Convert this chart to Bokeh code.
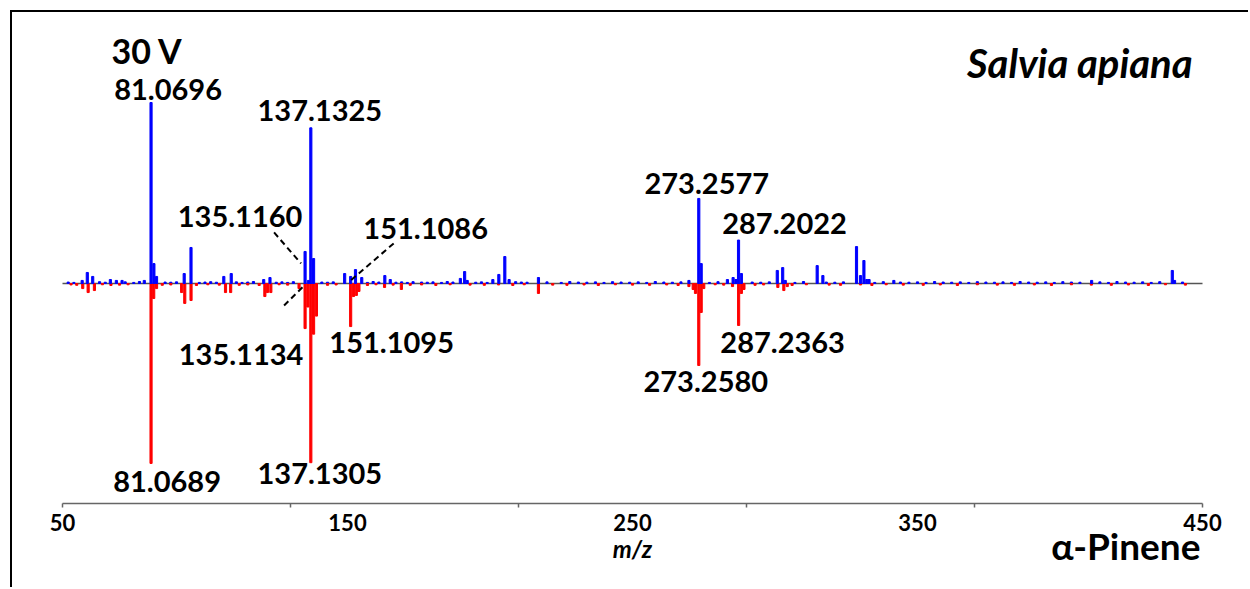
from bokeh.plotting import figure
from bokeh.models import Range1d, FixedTicker, Label
from bokeh.embed import file_html
from bokeh.resources import INLINE

# ---------------- data ----------------
# Salvia apiana spectrum (upper, blue), relative intensity
blue_mz = [56.9, 58.7, 60.6, 66.8, 68.9, 70.9, 78.7, 81.0696, 82.07, 83.0, 92.7, 95.09,
           106.6, 109.2, 120.6, 122.8, 135.1160, 136.3, 137.1325, 138.1, 149.0, 151.1086,
           152.8, 155.0, 163.1, 165.0, 189.6, 191.1, 192.0, 201.0, 203.1, 205.2, 206.7,
           217.0, 269.8, 273.2577, 274.1, 283.3, 285.3, 286.3, 287.2022, 288.2, 300.8,
           302.7, 303.6, 314.8, 316.8, 328.6, 330.0, 331.2, 332.2, 333.0, 341.7, 411.1,
           439.4, 440.2]
blue_int = [1.7, 6.1, 3.9, 2.2, 1.7, 1.7, 1.7, 100.0, 11.0, 3.9, 5.5, 19.9,
            3.9, 5.5, 2.2, 3.3, 17.7, 1.7, 86.0, 13.8, 5.5, 3.9,
            7.7, 3.3, 4.4, 2.2, 2.8, 6.6, 1.7, 2.2, 5.0, 14.9, 2.2,
            3.3, 1.7, 47.0, 11.0, 2.2, 3.3, 2.2, 24.0, 5.5, 7.2,
            8.8, 1.7, 9.9, 4.4, 20.4, 4.4, 12.7, 2.2, 2.2, 1.7, 1.7,
            7.2, 1.7]

# alpha-Pinene standard (lower, red), relative intensity
red_mz = [57.1, 59.0, 61.2, 81.0689, 82.0, 83.0, 91.8, 92.9, 95.1, 107.2, 109.0,
          121.0, 121.9, 123.1, 133.0, 135.1134, 136.1, 137.1305, 138.1, 139.1,
          151.1095, 152.1, 153.1, 154.0, 163.0, 168.9, 217.0, 269.8, 271.3, 272.1,
          273.2580, 274.1, 275.0, 285.1, 287.2363, 288.2, 289.1, 301.0, 303.1, 304.3]
red_int = [2.8, 5.0, 3.9, 99.4, 8.3, 2.8, 5.0, 11.0, 9.4, 5.0, 5.0,
           7.2, 5.0, 5.0, 2.8, 24.9, 13.0, 99.0, 28.0, 18.0,
           23.8, 7.2, 6.6, 4.4, 2.2, 3.3, 5.5, 1.7, 3.3, 5.5,
           45.3, 16.0, 2.8, 1.7, 23.2, 5.5, 3.3, 2.2, 3.9, 1.7]

# low-level baseline signals
blue_noise_mz = [52, 54, 63, 65, 72, 75, 77, 86, 88, 90, 98, 100, 102, 104, 111, 113, 115,
                 117, 125, 127, 129, 131, 141, 143, 145, 157, 159, 161, 167, 169, 171, 173,
                 176, 178, 180, 183, 185, 187, 195, 197, 199, 209, 211, 213, 220, 225, 228,
                 231, 234, 237, 240, 243, 246, 249, 252, 255, 258, 261, 264, 267, 277, 280,
                 292, 295, 298, 307, 310, 318, 321, 324, 335, 338, 344, 347, 350, 353, 356,
                 359, 362, 365, 368, 371, 374, 377, 380, 383, 386, 389, 392, 395, 398, 401,
                 404, 407, 414, 417, 420, 423, 426, 429, 432, 435, 443, 446]
blue_noise_int = [0.8, 0.6, 1.0, 0.7, 0.9, 0.6, 1.1, 0.8, 0.7, 0.9, 0.6, 0.8, 1.0, 0.7, 0.9,
                  0.6, 0.8, 1.1, 0.7, 0.9, 0.6, 1.0, 0.8, 0.7, 0.9, 0.6, 1.1, 0.8, 0.7, 0.9,
                  0.6, 1.0, 0.8, 0.7, 0.9, 0.6, 1.1, 0.8, 0.7, 0.9, 0.6, 1.0, 0.8, 0.7, 0.9,
                  0.6, 1.1, 0.8, 0.7, 0.9, 0.6, 1.0, 0.8, 0.7, 0.9, 0.6, 1.1, 0.8, 0.7, 0.9,
                  0.6, 1.0, 0.8, 0.7, 0.9, 0.6, 1.1, 0.8, 0.7, 0.9, 0.6, 1.0, 0.8, 0.7, 0.9,
                  0.6, 1.1, 0.8, 0.7, 0.9, 0.6, 1.0, 0.8, 0.7, 0.9, 0.6, 1.1, 0.8, 0.7, 0.9,
                  0.6, 1.0, 0.8, 0.7, 0.9, 0.6, 1.1, 0.8, 0.7, 0.9, 0.6, 1.0, 0.8]
red_noise_mz = [53, 55, 64, 67, 70, 73, 85, 88, 97, 101, 105, 112, 115, 119, 126, 129, 143,
                146, 157, 160, 166, 172, 176, 181, 186, 193, 198, 203, 208, 212, 222, 227,
                233, 238, 244, 250, 256, 262, 266, 279, 282, 293, 296, 306, 311, 319, 323,
                330, 334, 339, 345, 352, 358, 364, 371, 378, 384, 391, 397, 404, 411, 418,
                424, 431, 437, 444]
red_noise_int = [0.8, 1.0, 0.7, 1.1, 0.9, 0.7, 1.0, 0.8, 1.1, 0.7, 0.9, 1.0, 0.8, 1.1, 0.7,
                 0.9, 1.0, 0.8, 1.1, 0.7, 0.9, 1.0, 0.8, 1.1, 0.7, 0.9, 1.0, 0.8, 1.1, 0.7,
                 0.9, 1.0, 0.8, 1.1, 0.7, 0.9, 1.0, 0.8, 1.1, 0.7, 0.9, 1.0, 0.8, 1.1, 0.7,
                 0.9, 1.0, 0.8, 1.1, 0.7, 0.9, 1.0, 0.8, 1.1, 0.7, 0.9, 1.0, 0.8, 1.1, 0.7,
                 0.9, 1.0, 0.8, 1.1, 0.7, 0.9]

blue_labels = ["81.0696", "137.1325", "135.1160", "151.1086", "273.2577", "287.2022"]
red_labels = ["81.0689", "137.1305", "135.1134", "151.1095", "273.2580", "287.2363"]

x_tick_marks = [50, 130, 210, 290, 370, 450]
x_tick_labels = [50, 150, 250, 350, 450]

# ---------------- layout ----------------
FONT = "Lato"
BLUE = "#0000FF"
RED = "#FF0000"
OFF = 12                      # outer border offset (margin + border)
W, H = 1250 - OFF, 589 - OFF
XMIN, XMAX = 50, 450          # axis extent
AX_L, AX_R = 62, 1202         # page x of axis ends
PX_X = (AX_R - AX_L) / (XMAX - XMIN)
PX_Y = 1.81
BASE = 283                    # page y of the zero line
x_lo = XMIN - (AX_L - OFF) / PX_X
x_hi = XMAX + (1250 - AX_R) / PX_X
y_top = (BASE - 20) / PX_Y
y_bot = -(589 - BASE) / PX_Y
AXIS_Y = -(503 - BASE) / PX_Y


def px_to_x(px):
    return XMIN + (px - AX_L) / PX_X


def py_to_y(py):
    return (BASE - py) / PX_Y


p = figure(width=W, height=H, output_backend="svg", toolbar_location=None,
           x_range=Range1d(x_lo, x_hi), y_range=Range1d(y_bot, y_top),
           min_border_left=0, min_border_right=0,
           min_border_top=20 - OFF, min_border_bottom=0,
           background_fill_color="white", border_fill_color="white")
p.outline_line_color = None
p.grid.visible = False
p.yaxis.visible = False
p.styles = {"margin-left": "10px", "margin-top": "10px",
            "border-left": "2px solid black", "border-top": "2px solid black"}

ax = p.xaxis[0]
ax.fixed_location = AXIS_Y
ax.bounds = (XMIN, XMAX)
ax.ticker = FixedTicker(ticks=x_tick_labels, minor_ticks=x_tick_marks)
ax.major_tick_line_color = None
ax.major_tick_in = 0
ax.major_tick_out = 0
ax.minor_tick_in = 0
ax.minor_tick_out = 4
ax.minor_tick_line_color = "#666666"
ax.minor_tick_line_width = 1.5
ax.axis_line_color = "#666666"
ax.axis_line_width = 1.5
ax.major_label_text_font = FONT
ax.major_label_text_font_style = "bold"
ax.major_label_text_font_size = "22px"
ax.major_label_text_color = "black"
ax.major_label_standoff = 6
ax.axis_label = "m/z"
ax.axis_label_text_font = FONT
ax.axis_label_text_font_style = "bold italic"
ax.axis_label_text_font_size = "24px"
ax.axis_label_text_color = "black"
ax.axis_label_standoff = 0

# zero line of the mirror plot
p.line(x=[XMIN, XMAX], y=[0, 0], line_color="#555555", line_width=1.5)

# bars
bw = 0.75
p.vbar(x=blue_noise_mz, top=blue_noise_int, bottom=0, width=bw, color=BLUE)
p.vbar(x=red_noise_mz, top=[-v for v in red_noise_int], bottom=0, width=bw, color=RED)
p.vbar(x=red_mz, top=[-v for v in red_int], bottom=0, width=bw, color=RED)
p.vbar(x=blue_mz, top=blue_int, bottom=0, width=bw, color=BLUE)

# annotation placements (pixel offsets of label centre from the peak tip)
blue_off = {"81.0696": (17, 13), "137.1325": (9, 17), "135.1160": (-65, 35),
            "151.1086": (75, 48), "273.2577": (8, 15), "287.2022": (46, 17)}
red_off = {"81.0689": (16, -18), "137.1305": (9, -11), "135.1134": (-64, -26),
           "151.1095": (41, -16), "273.2580": (7, -16), "287.2363": (44, -17)}
# dashed leaders: (start dx, dy) -> (end dx, dy) in px from peak tip
leaders = {"135.1160": ((-31, 19), (-4, -12)),
           "151.1086": ((43, 33), (0, -4)),
           "135.1134": ((-21, 23), (-1, 43))}


def peak(lbl, mzs, ints):
    m = float(lbl)
    i = min(range(len(mzs)), key=lambda k: abs(mzs[k] - m))
    return mzs[i], ints[i]


def add_text(x, y, txt, size, style="bold", align="center"):
    p.add_layout(Label(x=x, y=y, text=txt, text_font=FONT, text_font_style=style,
                       text_font_size=size, text_color="black",
                       text_align=align, text_baseline="middle"))


for lbl in blue_labels:
    m, v = peak(lbl, blue_mz, blue_int)
    dx, dy = blue_off[lbl]
    add_text(m + dx / PX_X, v + dy / PX_Y, lbl, "29px")
for lbl in red_labels:
    m, v = peak(lbl, red_mz, red_int)
    dx, dy = red_off[lbl]
    add_text(m + dx / PX_X, -v + dy / PX_Y, lbl, "29px")

for lbl, ((sx, sy), (ex, ey)) in leaders.items():
    if lbl in blue_labels:
        m, v = peak(lbl, blue_mz, blue_int)
    else:
        m, v = peak(lbl, red_mz, red_int)
        v = -v
    p.line(x=[m + sx / PX_X, m + ex / PX_X], y=[v + sy / PX_Y, v + ey / PX_Y],
           line_color="black", line_width=2, line_dash="6 4")

# titles
add_text(px_to_x(111), py_to_y(50), "30 V", "34px", align="left")
add_text(px_to_x(1192), py_to_y(62), "Salvia apiana", "40px", style="bold italic", align="right")
add_text(px_to_x(1200), py_to_y(545), "α-Pinene", "37px", align="right")

open("out.html", "w").write(file_html(p, INLINE))
